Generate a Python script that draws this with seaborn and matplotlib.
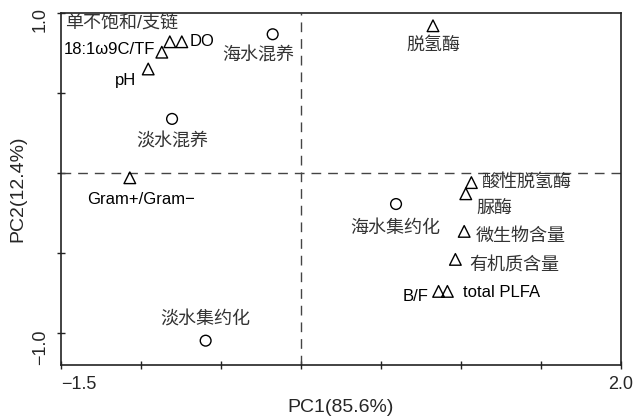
import matplotlib
matplotlib.use('Agg')
import matplotlib.pyplot as plt
import numpy as np
import pandas as pd
import seaborn as sns

# 变量（三角形）
var_names = ['单不饱和/支链', 'DO', '18:1ω9C/TF', 'pH', 'Gram+/Gram−', '脱氢酶',
             '酸性脱氢酶', '脲酶', '微生物含量', '有机质含量', 'B/F', 'total PLFA']
var_pc1 = [-0.82, -0.745, -0.87, -0.955, -1.07, 0.825,
           1.065, 1.03, 1.02, 0.965, 0.86, 0.915]
var_pc2 = [0.82, 0.82, 0.755, 0.65, -0.03, 0.92,
           -0.06, -0.13, -0.365, -0.54, -0.74, -0.74]
# 标签位置
var_lab_x = [-1.475, -0.695, -0.912, -1.03, -0.997, 0.825,
             1.125, 1.094, 1.094, 1.05, 0.795, 1.012]
var_lab_y = [0.935, 0.82, 0.77, 0.575, -0.163, 0.795,
             -0.06, -0.22, -0.394, -0.58, -0.775, -0.748]
var_ha = ['left', 'left', 'right', 'right', 'center', 'center',
          'left', 'left', 'left', 'left', 'right', 'left']

# 样本（圆圈）
sample_names = ['海水混养', '淡水混养', '淡水集约化', '海水集约化']
sample_pc1 = [-0.177, -0.806, -0.596, 0.594]
sample_pc2 = [0.867, 0.338, -1.048, -0.194]
sample_lab_x = [-0.269, -0.806, -0.597, 0.591]
sample_lab_y = [0.737, 0.194, -0.92, -0.344]

df_var = pd.DataFrame({'PC1': var_pc1, 'PC2': var_pc2})
df_sample = pd.DataFrame({'PC1': sample_pc1, 'PC2': sample_pc2})

sns.set_style('ticks')
plt.rcParams['font.family'] = ['Liberation Sans', 'Noto Sans CJK SC', 'DejaVu Sans']
plt.rcParams['axes.unicode_minus'] = True

fig = plt.figure(figsize=(6.33, 4.16), dpi=100)
ax = fig.add_axes([0.0964, 0.1226, 0.8846, 0.8462])

ax.axhline(0, color='#444444', lw=1, ls=(0, (7, 5)), zorder=1)
ax.axvline(0, color='#444444', lw=1, ls=(0, (7, 5)), zorder=1)

sns.scatterplot(data=df_var, x='PC1', y='PC2', marker='^', s=70,
                facecolor='none', edgecolor='black', linewidth=1, ax=ax, zorder=3)
sns.scatterplot(data=df_sample, x='PC1', y='PC2', marker='o', s=60,
                facecolor='none', edgecolor='black', linewidth=1, ax=ax, zorder=3)

def is_cjk(s):
    return any('\u4e00' <= c <= '\u9fff' for c in s)

for name, lx, ly, ha in zip(var_names, var_lab_x, var_lab_y, var_ha):
    if is_cjk(name):
        ax.text(lx, ly, name, ha=ha, va='center', fontsize=13, color='#333333')
    else:
        ax.text(lx, ly, name, ha=ha, va='center', fontsize=12, color='black')
for name, lx, ly in zip(sample_names, sample_lab_x, sample_lab_y):
    ax.text(lx, ly, name, ha='center', va='center', fontsize=13, color='#333333')

ax.set_xlim(-1.5, 2.0)
ax.set_ylim(-1.2, 1.0)
xt = np.arange(-1.5, 2.01, 0.5)
ax.set_xticks(xt)
ax.set_xticklabels(['−1.5', '', '', '', '', '', '', '2.0'], fontsize=13)
xl = ax.get_xticklabels()
xl[0].set_ha('left')
yt = np.arange(-1.0, 1.01, 0.5)
ax.set_yticks(yt)
ax.set_yticklabels([])
# y 轴端点标签（竖排）
for val, lab, dy in [(1.0, '1.0', -5), (-1.0, '−1.0', -10)]:
    ax.annotate(lab, xy=(0, val), xycoords=('axes fraction', 'data'),
                xytext=(-15, dy), textcoords='offset points',
                rotation=90, ha='center', va='center', fontsize=13)

ax.tick_params(axis='both', direction='inout', length=6, width=1, color='#222222', pad=5)
for sp in ax.spines.values():
    sp.set_color('#222222')
    sp.set_linewidth(1.2)

ax.set_xlabel('PC1(85.6%)', fontsize=14, labelpad=4)
ax.set_ylabel('PC2(12.4%)', fontsize=14)
ax.yaxis.set_label_coords(-0.062, 0.5)

fig.savefig('out.png', dpi=100)
